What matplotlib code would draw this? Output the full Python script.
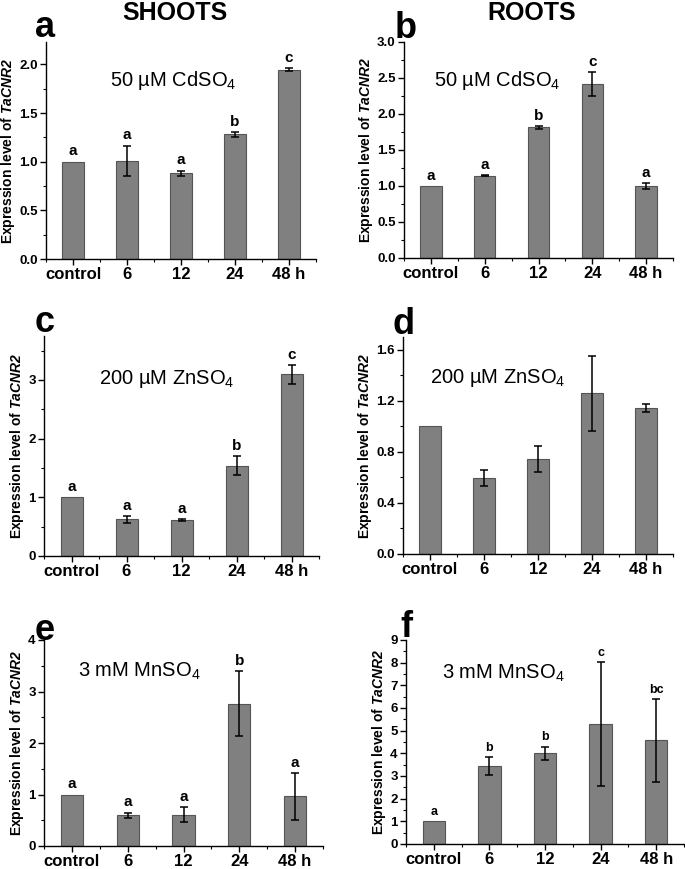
import numpy as np
import matplotlib
matplotlib.use('Agg')
import matplotlib.pyplot as plt
from matplotlib.ticker import MultipleLocator

plt.rcParams['font.family'] = ['Liberation Sans', 'DejaVu Sans']
plt.rcParams['font.weight'] = 'bold'
plt.rcParams['mathtext.fontset'] = 'custom'
plt.rcParams['mathtext.rm'] = 'Liberation Sans:weight=normal'
plt.rcParams['mathtext.it'] = 'Liberation Sans:italic:bold'
plt.rcParams['mathtext.bf'] = 'Liberation Sans:italic:bold'  # used for the gene name

# ---------------- data ----------------
categories = ['control', '6', '12', '24', '48 h']

cd_shoot = [1.0, 1.01, 0.883, 1.28, 1.945]
cd_shoot_err = [0.0, 0.155, 0.025, 0.025, 0.015]
cd_shoot_lab = ['a', 'a', 'a', 'b', 'c']

cd_root = [1.0, 1.14, 1.815, 2.415, 0.995]
cd_root_err = [0.0, 0.008, 0.018, 0.165, 0.04]
cd_root_lab = ['a', 'a', 'b', 'c', 'a']

zn_shoot = [1.0, 0.625, 0.614, 1.54, 3.095]
zn_shoot_err = [0.0, 0.06, 0.012, 0.165, 0.155]
zn_shoot_lab = ['a', 'a', 'a', 'b', 'c']

zn_root = [1.0, 0.595, 0.744, 1.258, 1.146]
zn_root_err = [0.0, 0.063, 0.1, 0.295, 0.03]
zn_root_lab = None

mn_shoot = [1.0, 0.60, 0.608, 2.764, 0.964]
mn_shoot_err = [0.0, 0.05, 0.14, 0.63, 0.455]
mn_shoot_lab = ['a', 'a', 'a', 'b', 'a']

mn_root = [1.0, 3.44, 4.0, 5.29, 4.57]
mn_root_err = [0.0, 0.4, 0.3, 2.73, 1.83]
mn_root_lab = ['a', 'b', 'b', 'c', 'bc']

W, H = 685, 869


def make_ax(fig, left, right, bottom, top):
    return fig.add_axes([left / W, 1 - bottom / H, (right - left) / W, (bottom - top) / H])


def panel(ax, vals, errs, labs, ymax, major, minor, treat, tpos, letter_fs=11):
    x = np.arange(len(categories))
    vals = np.asarray(vals)
    errs = np.asarray(errs)
    ax.bar(x, vals, width=0.4, color='#808080', edgecolor='#555555', linewidth=0.8, zorder=2)
    m = errs > 0  # control has no error bar
    ax.errorbar(x[m], vals[m], yerr=errs[m], fmt='none', ecolor='black', elinewidth=1.1,
                capsize=3, capthick=1.1, zorder=3)
    ax.set_xlim(-0.5, 4.5)
    ax.set_ylim(0, ymax)
    ax.spines['top'].set_visible(False)
    ax.spines['right'].set_visible(False)
    ax.spines['left'].set_linewidth(1.0)
    ax.spines['bottom'].set_linewidth(1.0)
    ax.set_xticks(x)
    ax.set_xticklabels(categories, fontsize=12, fontweight='bold')
    ax.xaxis.set_minor_locator(MultipleLocator(0.5))
    ax.yaxis.set_major_locator(MultipleLocator(major))
    ax.yaxis.set_minor_locator(MultipleLocator(minor))
    ax.tick_params(which='major', direction='out', length=4, width=1, labelsize=9.5, pad=2)
    ax.tick_params(axis='x', which='major', labelsize=12, pad=2)
    ax.tick_params(which='minor', direction='out', length=2.5, width=0.8)
    for t in ax.get_yticklabels():
        t.set_fontweight('bold')
    ax.set_ylabel('Expression level of $\\mathbf{TaCNR2}$', fontsize=10,
                  fontweight='bold', labelpad=1.5)
    if labs is not None:
        off = ymax * 0.015
        for xi, v, e, l in zip(x, vals, errs, labs):
            ax.text(xi, v + e + off, l, ha='center', va='bottom',
                    fontsize=letter_fs, fontweight='bold')
    ax.text(tpos[0], tpos[1], treat, transform=ax.transAxes, ha='center',
            va='baseline', fontsize=14.5, fontweight='normal')


fig = plt.figure(figsize=(W / 100, H / 100), dpi=100)

ax_a = make_ax(fig, 46, 316, 259, 42)
panel(ax_a, cd_shoot, cd_shoot_err, cd_shoot_lab, 2.23, 0.5, 0.25,
      '50 µM CdSO$_4$', (0.47, 0.797))
ax_b = make_ax(fig, 404, 673, 258, 42)
panel(ax_b, cd_root, cd_root_err, cd_root_lab, 3.0, 0.5, 0.25,
      '50 µM CdSO$_4$', (0.346, 0.795))
ax_c = make_ax(fig, 44, 319, 556, 336)
panel(ax_c, zn_shoot, zn_shoot_err, zn_shoot_lab, 3.75, 1, 0.5,
      '200 µM ZnSO$_4$', (0.447, 0.78))
ax_d = make_ax(fig, 403, 673, 554, 337)
panel(ax_d, zn_root, zn_root_err, zn_root_lab, 1.7, 0.4, 0.2,
      '200 µM ZnSO$_4$', (0.35, 0.79))
ax_e = make_ax(fig, 44, 323, 846, 640)
panel(ax_e, mn_shoot, mn_shoot_err, mn_shoot_lab, 4, 1, 0.5,
      '3 mM MnSO$_4$', (0.34, 0.82))
ax_f = make_ax(fig, 406, 684, 844, 640)
panel(ax_f, mn_root, mn_root_err, mn_root_lab, 9, 1, 0.5,
      '3 mM MnSO$_4$', (0.35, 0.81), letter_fs=9)

# panel letters and column titles
for lt, px, py in [('a', 45, 37), ('b', 406, 38), ('c', 45, 332),
                   ('d', 404, 334), ('e', 45, 640), ('f', 406, 637)]:
    fig.text(px / W, 1 - py / H, lt, ha='center', va='baseline',
             fontsize=26, fontweight='bold')
fig.text(175 / W, 1 - 13 / H, 'SHOOTS', ha='center', va='center',
         fontsize=18, fontweight='bold')
fig.text(532 / W, 1 - 13 / H, 'ROOTS', ha='center', va='center',
         fontsize=18, fontweight='bold')

fig.savefig('out.png', dpi=100)
